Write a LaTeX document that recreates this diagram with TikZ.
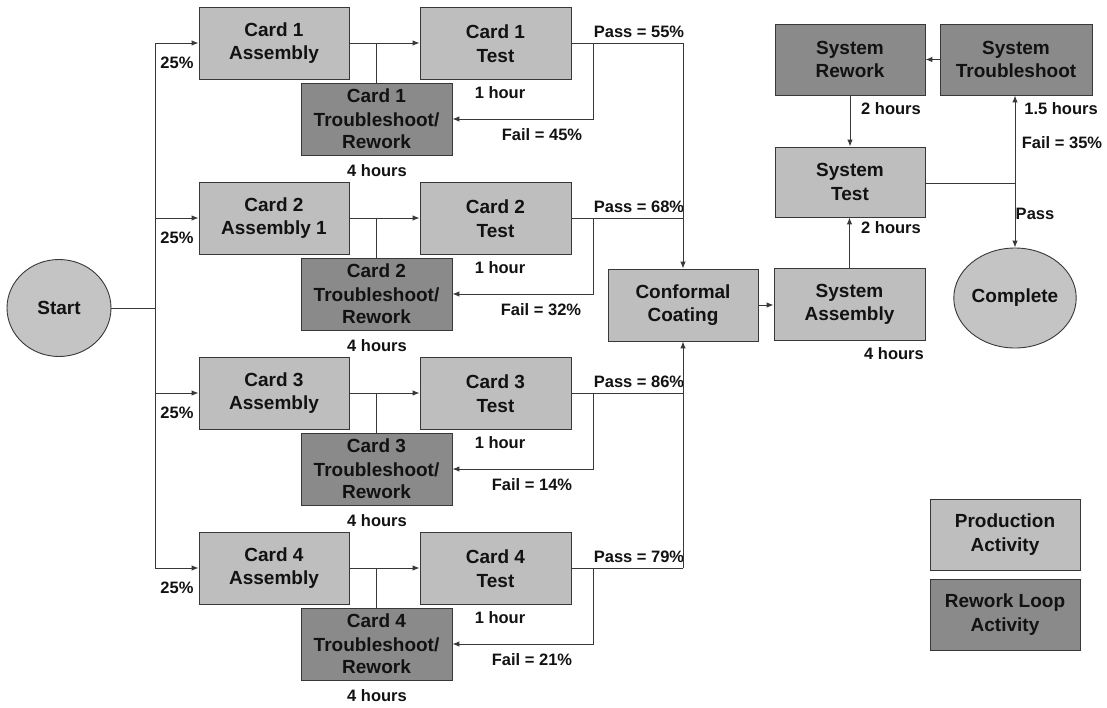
\documentclass[tikz,border=0pt]{standalone}
\usepackage{fontspec}
\setmainfont{Liberation Sans}
\usetikzlibrary{arrows.meta,shapes.geometric,calc}
\definecolor{lineGray}{HTML}{383838}
\definecolor{prodFill}{HTML}{BEBEBE}
\definecolor{reworkFill}{HTML}{8A8A8A}
\definecolor{roundFill}{HTML}{C4C4C4}
\definecolor{inkColor}{HTML}{121212}
\tikzset{
  boxtext/.style={font=\fontsize{19}{23.5}\selectfont\bfseries, text=inkColor, align=center},
  prodbox/.style={boxtext, draw=lineGray, line width=0.9pt, fill=prodFill, minimum width=150pt, minimum height=72pt, inner sep=0pt},
  reworkbox/.style={prodbox, fill=reworkFill},
  terminal/.style={boxtext, ellipse, draw=lineGray, line width=0.9pt, fill=roundFill, inner sep=0pt},
  lbl/.style={font=\fontsize{16.5}{19}\selectfont\bfseries, text=inkColor, inner sep=0pt},
  wire/.style={draw=lineGray, line width=1pt},
  arr/.style={wire, -{Latex[length=7pt,width=5.5pt]}}
}
\begin{document}
\begin{tikzpicture}[x=1pt,y=-1pt]
\useasboundingbox (0,0) rectangle (1107,707);
\fill[white] (0,0) rectangle (1107,707);

% start node and the distribution trunk
\node[terminal, minimum width=104pt, minimum height=97pt] (start) at (59,308) {Start};
\coordinate (trunkTop) at (155,43);
\coordinate (trunkBot) at (155,568);
\draw[wire] (trunkTop) -- (trunkBot);
\draw[wire] (start.east) -- (start.east -| trunkTop);

% conformal coating and the system stage
\node[prodbox] (coat) at (683,305) {Conformal\\Coating};
\node[prodbox, minimum width=151pt] (sysasm) at (849.5,304.5) {System\\Assembly};
\node[prodbox, minimum height=70pt] (systest) at (850,182) {System\\Test};
\node[reworkbox, minimum height=71pt] (sysrw) at (850,59.5) {System\\Rework};
\node[reworkbox, minimum width=152pt, minimum height=71pt] (systs) at (1016,59.5) {System\\Troubleshoot};
\node[terminal, minimum width=103pt, minimum height=100pt] (complete) at (1015,298) {Complete};

% card rows: assembly, test, troubleshoot/rework loop
\foreach \k/\asm/\pass/\fail/\fx in {0/Assembly/55/45/542, 1/Assembly 1/68/32/541, 2/Assembly/86/14/532, 3/Assembly/79/21/532}{
  \pgfmathsetmacro{\dy}{175*\k}
  \pgfmathtruncatemacro{\num}{\k+1}
  \node[prodbox] (asm\k) at (274,43+\dy) {Card \num\\\asm};
  \node[prodbox, minimum width=151pt] (test\k) at (495.5,43.5+\dy) {Card \num\\Test};
  \node[reworkbox, minimum width=151pt] (ts\k) at (376.5,119+\dy) {Card \num\\Troubleshoot/\\[-1pt]Rework};
  \coordinate (split\k) at (155,43+\dy);
  \coordinate (fork\k) at (593,43+\dy);
  \coordinate (pass\k) at (683,43+\dy);
  \draw[arr] (split\k) -- (asm\k.west);
  \draw[arr] (asm\k.east) -- (asm\k.east -| test\k.west);
  \draw[wire] (ts\k.north) -- (ts\k.north |- asm\k.east);
  \draw[wire] (test\k.east |- fork\k) -- (pass\k);
  \draw[arr] (fork\k) |- (ts\k.east);
  \node[lbl] at (177,63+\dy) {25\%};
  \node[lbl] at (500,93+\dy) {1 hour};
  \node[lbl] at (377,171+\dy) {4 hours};
  \node[lbl] at (639,32+\dy) {Pass = \pass\%};
  \node[lbl] at (\fx,135+\dy) {Fail = \fail\%};
}

% card outputs merge into conformal coating
\draw[arr] (pass0) -- (coat.north);
\draw[arr] (pass3) -- (coat.south);

% system flow
\draw[arr] (coat.east) -- (coat.east -| sysasm.west);
\draw[arr] (sysasm.north) -- (sysasm.north |- systest.south);
\draw[arr] (sysrw.south) -- (systest.north);
\draw[arr] (systs.west) -- (sysrw.east);
\coordinate (sysfork) at (1015,183);
\draw[wire] (systest.east |- sysfork) -- (sysfork);
\draw[arr] (sysfork) -- (sysfork |- systs.south);
\draw[arr] (sysfork) -- (complete.north);

\node[lbl] at (891,109) {2 hours};
\node[lbl] at (1061,109) {1.5 hours};
\node[lbl] at (1062,143) {Fail = 35\%};
\node[lbl] at (1035,214) {Pass};
\node[lbl] at (891,228) {2 hours};
\node[lbl] at (894,354) {4 hours};

% legend
\node[prodbox, minimum height=71pt] (legendProd) at (1005,534.5) {Production\\Activity};
\node[reworkbox, minimum height=71pt] (legendRework) at (1005,614.5) {Rework Loop\\Activity};
\end{tikzpicture}
\end{document}
